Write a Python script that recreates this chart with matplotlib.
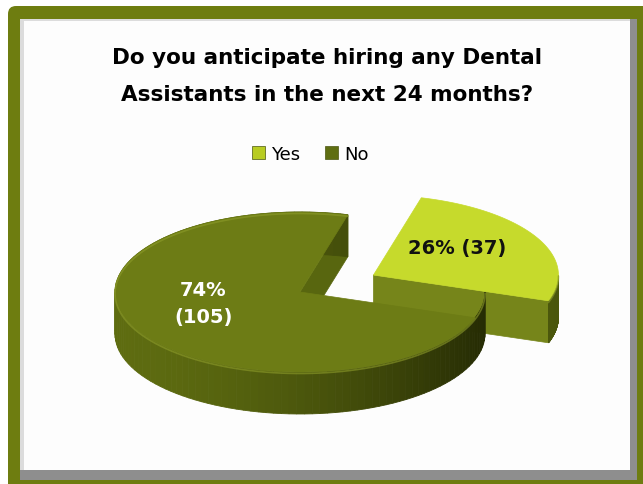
import numpy as np
import matplotlib.pyplot as plt
from matplotlib.patches import Polygon, Rectangle, FancyBboxPatch, Patch
from matplotlib.colors import to_rgb

# survey answers
labels = ['Yes', 'No']
counts = [37, 105]
title_lines = ['Do you anticipate hiring any Dental', 'Assistants in the next 24 months?']

top_colors = ['#c6da2c', '#6d7c15']
cut_colors = ['#76851a', '#58660f']
legend_colors = ['#b8cc22', '#5f6e12']

W, H = 643, 485
fig = plt.figure(figsize=(W / 100, H / 100), dpi=100)
ax = fig.add_axes([0, 0, 1, 1])
ax.set_xlim(0, W)
ax.set_ylim(H, 0)
ax.axis('off')

# framed panel
ax.add_patch(FancyBboxPatch((8, 7), 660, 500, boxstyle='round,pad=0,rounding_size=8',
                            facecolor='#6e7d10', edgecolor='none'))
ax.add_patch(Rectangle((20, 20), 617, 461, facecolor='#8e8e8e', edgecolor='none'))
ax.add_patch(Rectangle((20, 20), 610, 451, facecolor='#dcdcdc', edgecolor='none'))
ax.add_patch(Rectangle((24, 22), 606, 449, facecolor='#fdfdfd', edgecolor='none'))

# pie geometry
cx, cy = 300, 293
rx, ry = 185, 80
depth = 42
start = 75.0
explode = [0.45, 0.0]
font = 'DejaVu Sans'


def pt(x0, y0, t, r=1.0):
    return x0 + r * rx * np.cos(np.radians(t)), y0 - r * ry * np.sin(np.radians(t))


def lerp(c0, c1, f):
    a, b = np.array(to_rgb(c0)), np.array(to_rgb(c1))
    return tuple(a + (b - a) * f)


def draw_slice(x0, y0, t1, t2, top, cut, rim_light, rim_dark, label, lcolor, shift):
    # cut faces facing the viewer
    for t, vis in ((t1, np.cos(np.radians(t1)) > 0), (t2, np.cos(np.radians(t2)) < 0)):
        if vis:
            px, py = pt(x0, y0, t)
            ax.add_patch(Polygon([(x0, y0), (px, py), (px, py + depth), (x0, y0 + depth)],
                                 closed=True, facecolor=cut, edgecolor=cut, lw=0.5))
    # front rim, shaded from left to right
    a0, a1 = max(t1, 180), min(t2, 360)
    if t1 < 0:
        a0, a1 = t1 + 360, 360
    if a1 > a0:
        ts = np.linspace(a0, a1, 120)
        for s, e in zip(ts[:-1], ts[1:]):
            f = ((1 + np.cos(np.radians((s + e) / 2))) / 2) ** 1.6
            c = lerp(rim_light, rim_dark, f)
            xs, ys = pt(x0, y0, np.array([s, e]))
            ax.add_patch(Polygon([(xs[0], ys[0]), (xs[1], ys[1]), (xs[1], ys[1] + depth),
                                  (xs[0], ys[0] + depth)], closed=True,
                                 facecolor=c, edgecolor=c, lw=0.6))
        xs, ys = pt(x0, y0, ts)
        ax.plot(xs, ys + 1.5, color='#8d9c2a', lw=1.2, alpha=0.6)
    # top face
    ts = np.linspace(t1, t2, 200)
    xs, ys = pt(x0, y0, ts)
    ax.add_patch(Polygon(np.column_stack([np.r_[x0, xs], np.r_[y0, ys]]), closed=True,
                         facecolor=top, edgecolor=top, lw=0.5))
    mid = (t1 + t2) / 2
    lx, ly = pt(x0, y0, mid, 0.53)
    ax.text(lx + shift[0], ly + shift[1], label, ha='center', va='center', fontsize=14,
            fontweight='bold', color=lcolor, family=font, linespacing=1.55)


total = sum(counts)
angles = []
t = start
for n in counts:
    span = 360 * n / total
    angles.append((t - span, t))
    t -= span

pct = [round(100 * n / total) for n in counts]
texts = [f'{pct[0]}% ({counts[0]})', f'{pct[1]}%\n({counts[1]})']
lcolors = ['#111111', 'white']
shifts = [(-3, -8), (-10, -9)]
rims = [('#66760f', '#4a560c'), ('#5e6c10', '#262c04')]

for i in range(len(counts)):
    t1, t2 = angles[i]
    mid = (t1 + t2) / 2
    ox, oy = pt(0, 0, mid, explode[i])
    draw_slice(cx + ox, cy + oy, t1, t2, top_colors[i], cut_colors[i],
               rims[i][0], rims[i][1], texts[i], lcolors[i], shifts[i])

for line, y in zip(title_lines, [58, 95]):
    ax.text(327, y, line, ha='center', va='center', fontsize=15.5, fontweight='bold',
            family=font, color='black')

handles = [Patch(facecolor=c, edgecolor='#4a5510', lw=0.5) for c in legend_colors]
ax.legend(handles, labels, loc='center', bbox_to_anchor=(310 / W, 1 - 155 / H), ncol=2,
          frameon=False, handlelength=0.75, handleheight=0.75,
          handletextpad=0.3, columnspacing=1.4, prop={'family': font, 'size': 13})

fig.savefig('out.png', dpi=100)
